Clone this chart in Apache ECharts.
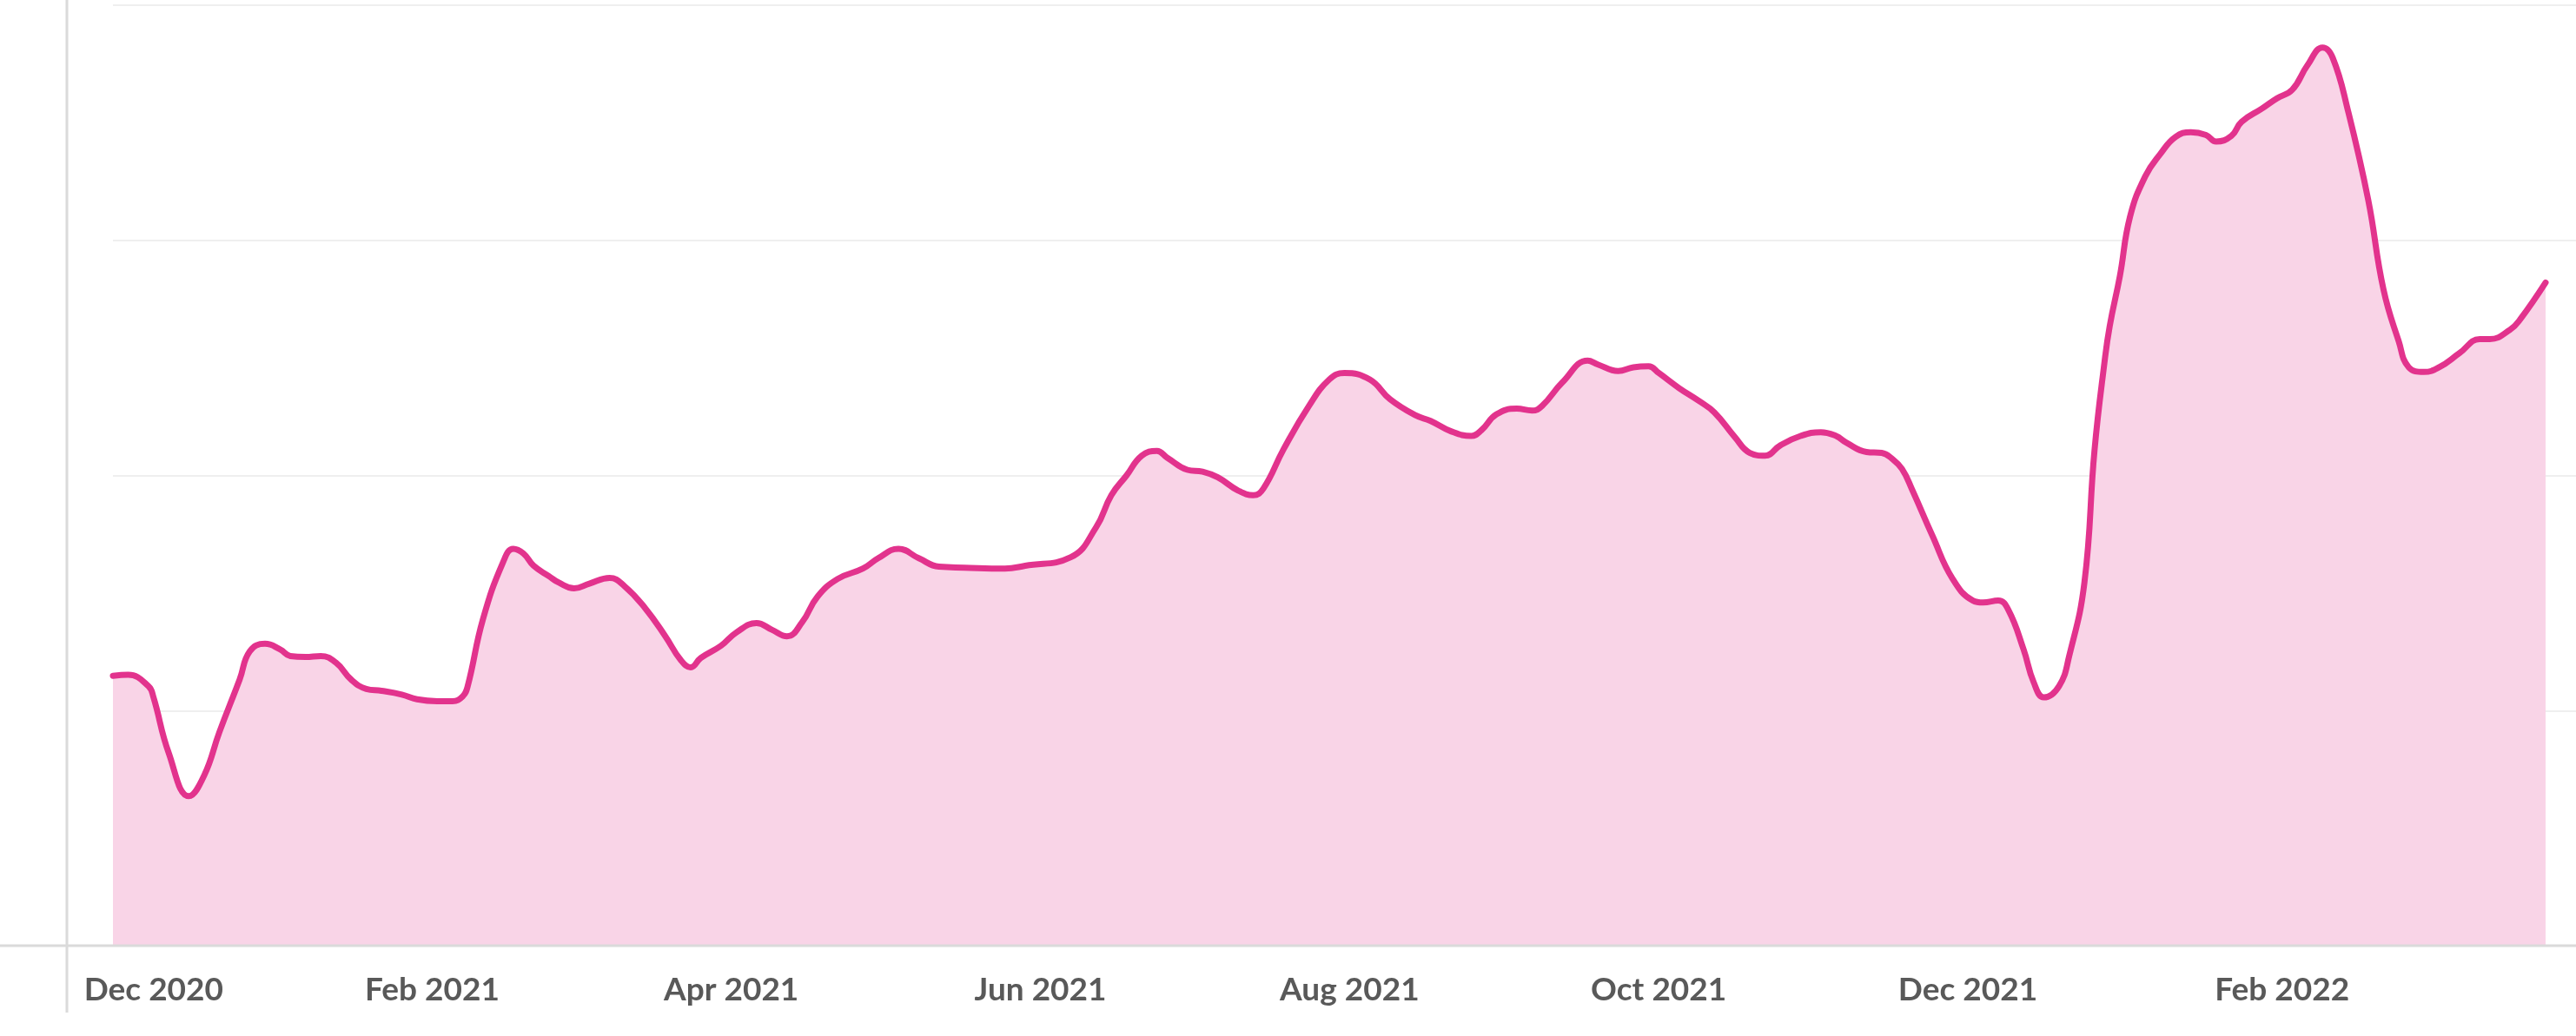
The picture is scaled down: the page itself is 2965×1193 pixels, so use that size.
<!DOCTYPE html>
<html>
<head>
<meta charset="utf-8">
<script src="https://cdn.jsdelivr.net/npm/echarts@6/dist/echarts.min.js"></script>
<style>
html,body{margin:0;padding:0;background:#ffffff;}
#chart{width:2965px;height:1193px;}
</style>
</head>
<body>
<div id="chart"></div>
<script>
// ---- data ----
var dates = [
 '2020-11-30','2020-12-03','2020-12-07','2020-12-08','2020-12-11','2020-12-15','2020-12-18','2020-12-21','2020-12-25','2020-12-27','2020-12-30',
 '2021-01-02','2021-01-04','2021-01-07','2021-01-10','2021-01-13','2021-01-16','2021-01-19','2021-01-22','2021-01-26','2021-01-29',
 '2021-02-02','2021-02-05','2021-02-07','2021-02-08','2021-02-11','2021-02-15','2021-02-17','2021-02-19','2021-02-21','2021-02-24','2021-02-26',
 '2021-03-01','2021-03-04','2021-03-08','2021-03-11','2021-03-15','2021-03-19','2021-03-22','2021-03-24','2021-03-26','2021-03-30',
 '2021-04-02','2021-04-06','2021-04-09','2021-04-12','2021-04-15','2021-04-18','2021-04-22','2021-04-27','2021-04-30',
 '2021-05-04','2021-05-08','2021-05-12','2021-05-17','2021-05-25','2021-05-29',
 '2021-06-07','2021-06-12','2021-06-15','2021-06-18','2021-06-21','2021-06-24','2021-06-26','2021-06-30',
 '2021-07-03','2021-07-06','2021-07-10','2021-07-13','2021-07-15','2021-07-19','2021-07-24','2021-07-28','2021-07-31',
 '2021-08-05','2021-08-09','2021-08-14','2021-08-17','2021-08-21','2021-08-25','2021-08-27','2021-08-30',
 '2021-09-03','2021-09-06','2021-09-08','2021-09-12','2021-09-17','2021-09-19','2021-09-23','2021-09-26','2021-09-29',
 '2021-10-01','2021-10-05','2021-10-09','2021-10-12','2021-10-16','2021-10-19','2021-10-22','2021-10-25','2021-10-29',
 '2021-11-02','2021-11-05','2021-11-07','2021-11-11','2021-11-14','2021-11-16','2021-11-18','2021-11-20','2021-11-24','2021-11-28',
 '2021-12-02','2021-12-04','2021-12-07','2021-12-09','2021-12-12','2021-12-14','2021-12-16','2021-12-19','2021-12-21','2021-12-24','2021-12-26','2021-12-28','2021-12-29','2021-12-31',
 '2022-01-02','2022-01-05','2022-01-08','2022-01-11','2022-01-14','2022-01-17','2022-01-19','2022-01-22','2022-01-24','2022-01-28','2022-01-31',
 '2022-02-03','2022-02-06','2022-02-09','2022-02-11','2022-02-14','2022-02-18','2022-02-21','2022-02-24','2022-02-26',
 '2022-03-01','2022-03-04','2022-03-08','2022-03-12','2022-03-14','2022-03-18','2022-03-20','2022-03-25'
];
var values = [
 28.7,28.8,27.6,26.4,20.5,15.9,18.1,22.7,28.3,31.3,32.1,
 31.5,30.8,30.7,30.8,30.1,28.3,27.3,27.1,26.7,26.2,
 26.0,26.0,26.5,27.6,34.7,40.8,42.2,41.7,40.4,39.3,38.6,
 38.0,38.5,39.1,38.2,35.9,32.9,30.4,29.6,30.6,31.9,
 33.3,34.3,33.6,32.9,34.4,37.1,39.0,40.1,41.2,
 42.2,41.2,40.3,40.2,40.1,40.4,
 41.3,44.5,47.9,50.0,52.1,52.6,51.9,50.6,
 50.4,49.8,48.4,47.9,48.6,52.8,57.4,60.2,60.9,
 60.2,58.1,56.4,55.8,54.7,54.2,54.8,56.5,
 57.1,56.9,57.4,59.9,62.2,61.8,61.1,61.5,61.6,
 60.9,59.3,57.9,56.7,54.1,52.4,52.1,53.2,54.2,
 54.6,54.2,53.5,52.5,52.4,51.8,50.7,48.5,43.6,39.0,
 36.7,36.5,36.7,35.7,31.5,28.0,26.4,27.6,30.8,38.6,52.7,62.2,65.9,71.2,
 77.5,81.8,84.2,86.0,86.5,86.2,85.5,86.1,87.6,89.0,90.1,
 91.0,93.6,95.5,94.4,88.8,79.3,69.8,64.3,61.5,
 61.0,61.5,63.0,64.5,64.5,65.5,66.6,70.5
];
var tickDates = ['2020-12-01','2021-02-01','2021-04-01','2021-06-01','2021-08-01','2021-10-01','2021-12-01','2022-02-01'];
var monthNames = ['Jan','Feb','Mar','Apr','May','Jun','Jul','Aug','Sep','Oct','Nov','Dec'];
var yTicks = [0,25,50,75,100];
var axisStart = '2020-11-30', axisEnd = '2022-03-31';

// ---- chart ----
function ts(s){var p=s.split('-');return new Date(+p[0],+p[1]-1,+p[2]).getTime();}
var seriesData = dates.map(function(d,i){return [ts(d), values[i]];});
var firstTick = ts(tickDates[0]);
var FONT = 'Lato,"Noto Sans",sans-serif';

var chart = echarts.init(document.getElementById('chart'), null, {renderer:'canvas'});
chart.setOption({
  animation:false,
  backgroundColor:'#ffffff',
  grid:{left:130,right:0,top:6,bottom:104,containLabel:false},
  xAxis:{
    type:'value',
    min:ts(axisStart),
    max:ts(axisEnd),
    axisLine:{show:false},
    axisTick:{show:false},
    splitLine:{show:false},
    axisLabel:{
      show:true,
      customValues:tickDates.map(ts),
      showMinLabel:true,
      showMaxLabel:true,
      margin:33,
      color:'#595959',
      fontSize:37,
      fontWeight:'bold',
      fontFamily:FONT,
      formatter:function(v){
        var d=new Date(v);
        var t=monthNames[d.getMonth()]+' '+d.getFullYear();
        if (Math.abs(v-firstTick)<86400000) return '{first|'+t+'}';
        return t;
      },
      rich:{
        first:{padding:[0,0,0,82],color:'#595959',fontSize:37,fontWeight:'bold',fontFamily:FONT}
      }
    }
  },
  yAxis:{
    type:'value',
    min:yTicks[0],
    max:yTicks[yTicks.length-1],
    interval:25,
    axisLine:{show:false},
    axisTick:{show:false},
    axisLabel:{show:false},
    splitLine:{show:true,lineStyle:{color:'#efefef',width:2}}
  },
  graphic:[
    {type:'line',z:100,shape:{x1:0,y1:1089,x2:2965,y2:1089},style:{stroke:'#dadada',lineWidth:3}},
    {type:'line',z:100,shape:{x1:77,y1:0,x2:77,y2:1166},style:{stroke:'#dadada',lineWidth:3}}
  ],
  series:[{
    type:'line',
    data:seriesData,
    showSymbol:false,
    smooth:0.45,
    lineStyle:{color:'#e2338d',width:7,cap:'round',join:'round'},
    itemStyle:{color:'#e2338d'},
    areaStyle:{color:'#f9d4e7',opacity:1},
    z:2
  }]
});
</script>
</body>
</html>
